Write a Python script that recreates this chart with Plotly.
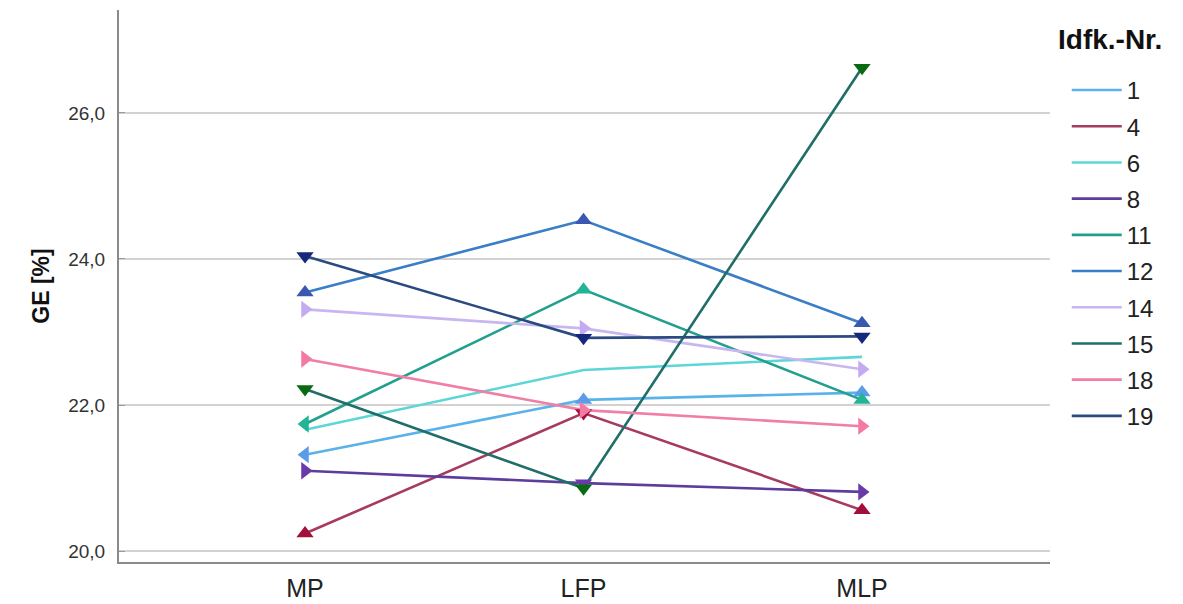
import plotly.graph_objects as go

# Phases on the x axis and subject IDs
phases = ["MP", "LFP", "MLP"]
ids = ["1", "4", "6", "8", "11", "12", "14", "15", "18", "19"]

# GE [%] per subject across phases
ge_1 = [21.32, 22.07, 22.17]
ge_4 = [20.24, 21.89, 20.56]
ge_6 = [21.66, 22.48, 22.66]
ge_8 = [21.10, 20.93, 20.81]
ge_11 = [21.74, 23.58, 22.07]
ge_12 = [23.54, 24.53, 23.12]
ge_14 = [23.31, 23.05, 22.49]
ge_15 = [22.22, 20.86, 26.62]
ge_18 = [22.63, 21.93, 21.71]
ge_19 = [24.04, 22.92, 22.94]

values = [ge_1, ge_4, ge_6, ge_8, ge_11, ge_12, ge_14, ge_15, ge_18, ge_19]

# line colour, marker colour, marker symbols per phase
styles = {
    "1": ("#5ab2ea", "#5a9ce8", ["triangle-left", "triangle-up", "triangle-up"]),
    "4": ("#a63a60", "#a0103a", ["triangle-up", "triangle-down", "triangle-up"]),
    "6": ("#5cd6d6", "#5cd6d6", None),
    "8": ("#5c3c9c", "#6a3aa8", ["triangle-right", "triangle-down", "triangle-right"]),
    "11": ("#22a08e", "#22b494", ["triangle-left", "triangle-up", "triangle-up"]),
    "12": ("#3a7ec8", "#3a58b0", ["triangle-up", "triangle-up", "triangle-up"]),
    "14": ("#c8b6f0", "#c4aaf0", ["triangle-right", "triangle-right", "triangle-right"]),
    "15": ("#1f6e6a", "#0a6a14", ["triangle-down", "triangle-down", "triangle-down"]),
    "18": ("#f07ea6", "#f47aa4", ["triangle-right", "triangle-right", "triangle-right"]),
    "19": ("#2c4a82", "#16287a", ["triangle-down", "triangle-down", "triangle-down"]),
}

FONT = "Liberation Sans, Arial, sans-serif"

fig = go.Figure()
for sid, ys in zip(ids, values):
    line_col, mark_col, symbols = styles[sid]
    fig.add_trace(go.Scatter(
        x=phases, y=ys, mode="lines", name=sid, legendgroup=sid,
        line=dict(color=line_col, width=2.6),
    ))
for sid, ys in zip(ids, values):
    line_col, mark_col, symbols = styles[sid]
    if symbols is None:
        continue
    fig.add_trace(go.Scatter(
        x=phases, y=ys, mode="markers", legendgroup=sid, showlegend=False,
        marker=dict(color=mark_col, size=15, symbol=symbols, line=dict(width=0)),
    ))

# legend heading drawn as a paper annotation so the entries can sit further right
fig.add_annotation(
    text="<b>Idfk.-Nr.</b>", xref="paper", yref="paper",
    x=1.0067, y=0.946, xanchor="left", yanchor="middle", showarrow=False,
    font=dict(size=28, color="#111", family=FONT),
)

fig.update_layout(
    width=1183, height=604,
    margin=dict(l=119, r=133, t=10, b=42),
    paper_bgcolor="white", plot_bgcolor="white",
    font=dict(family=FONT, color="#222"),
    showlegend=True,
    legend=dict(
        font=dict(size=24, color="#222", family=FONT),
        x=1.018, xanchor="left", y=0.895, yanchor="top",
        tracegroupgap=2, itemwidth=50,
        bgcolor="rgba(0,0,0,0)",
    ),
    xaxis=dict(
        type="category", range=[-0.668, 2.675], automargin=False,
        showgrid=False, zeroline=False,
        showline=True, linecolor="#8a8a8a", linewidth=2,
        ticks="", ticklabelstandoff=3,
        tickfont=dict(size=25, color="#222"),
    ),
    yaxis=dict(
        range=[19.85, 27.41], automargin=False,
        tickvals=[20, 22, 24, 26], ticktext=["20,0", "22,0", "24,0", "26,0"],
        showgrid=True, gridcolor="#d2d2d2", gridwidth=2, zeroline=False,
        showline=True, linecolor="#8a8a8a", linewidth=2,
        ticks="inside", ticklen=6, tickcolor="#9a9a9a",
        ticklabelstandoff=8,
        tickfont=dict(size=19, color="#333"),
        title=dict(text="<b>GE [%]</b>", font=dict(size=23, color="#111"), standoff=12),
    ),
)

fig.write_html("out.html")
